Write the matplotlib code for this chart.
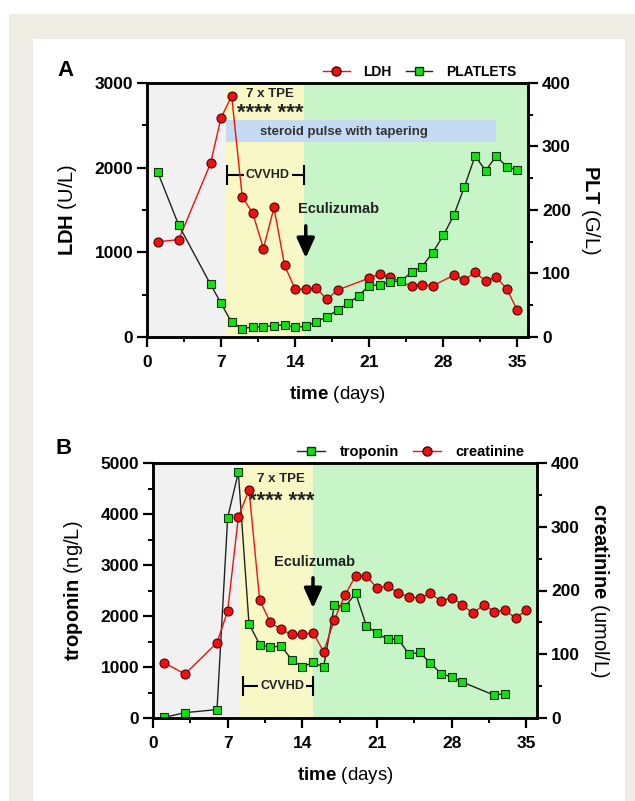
import numpy as np
import matplotlib
matplotlib.use("Agg")
import matplotlib.pyplot as plt
from matplotlib.lines import Line2D
from matplotlib.patches import Rectangle
from matplotlib.ticker import MultipleLocator

plt.rcParams["font.family"] = ["Liberation Sans", "DejaVu Sans"]
plt.rcParams["mathtext.fontset"] = "custom"
plt.rcParams["mathtext.rm"] = "Liberation Sans"
plt.rcParams["mathtext.bf"] = "Liberation Sans:bold"

# ---- panel A data ----
ldh_days = [1, 3, 6, 7, 8, 9, 10, 11, 12, 13, 14, 15, 16, 17, 18, 21, 22, 23,
            25, 26, 27, 29, 30, 31, 32, 33, 34, 35]
ldh = [1125, 1150, 2050, 2590, 2845, 1655, 1460, 1045, 1530, 845, 565, 565,
       575, 445, 555, 695, 745, 705, 600, 615, 605, 730, 675, 765, 660, 710,
       565, 315]

plt_days = [1, 3, 6, 7, 8, 9, 10, 11, 12, 13, 14, 15, 16, 17, 18, 19, 20, 21,
            22, 23, 24, 25, 26, 27, 28, 29, 30, 31, 32, 33, 34, 35]
platelets = [260, 176, 83, 53, 23, 13, 16, 16, 18, 19, 15, 17, 24, 32, 42, 53,
             65, 81, 82, 87, 88, 102, 111, 133, 160, 192, 237, 285, 262, 285,
             268, 263]

# ---- panel B data ----
trop_days = [1, 3, 6, 7, 8, 9, 10, 11, 12, 13, 14, 15, 16, 17, 18, 19, 20, 21,
             22, 23, 24, 25, 26, 27, 28, 29, 32, 33]
troponin = [10, 105, 165, 3930, 4815, 1845, 1440, 1385, 1415, 1145, 1000, 1090,
            1000, 2215, 2180, 2445, 1810, 1660, 1545, 1545, 1250, 1285, 1080,
            870, 805, 705, 445, 480]

crea_days = [1, 3, 6, 7, 8, 9, 10, 11, 12, 13, 14, 15, 16, 17, 18, 19, 20, 21,
             22, 23, 24, 25, 26, 27, 28, 29, 30, 31, 32, 33, 34, 35]
creatinine = [87, 69, 118, 168, 315, 358, 185, 150, 139, 131, 131, 134, 104,
              154, 193, 223, 223, 204, 207, 196, 190, 188, 196, 183, 189, 178,
              164, 178, 167, 169, 157, 169]

GRAY = "#f1f1f1"
YELLOW = "#f8f8c6"
GREEN = "#c8f5c8"
RED = "#ee1111"
LIME = "#11e011"
W, H = 635, 801


def px_axes(fig, l, r, t, b):
    return fig.add_axes([l / W, 1 - b / H, (r - l) / W, (b - t) / H])


def style_axes(ax, ax2, ymax, ymajor, ymax2):
    ax.set_xlim(0, 36)
    ax.set_ylim(0, ymax)
    ax2.set_ylim(0, ymax2)
    ax.xaxis.set_major_locator(MultipleLocator(7))
    ax.xaxis.set_minor_locator(MultipleLocator(3.5))
    ax.yaxis.set_major_locator(MultipleLocator(ymajor))
    ax.yaxis.set_minor_locator(MultipleLocator(ymajor / 2))
    ax2.yaxis.set_major_locator(MultipleLocator(100))
    ax2.yaxis.set_minor_locator(MultipleLocator(50))
    for a in (ax, ax2):
        for s in a.spines.values():
            s.set_linewidth(1.8)
        a.tick_params(which="major", direction="out", length=7, width=1.6,
                      labelsize=12.5, pad=3)
        a.tick_params(which="minor", direction="out", length=3.5, width=1.4)
        for lab in a.get_xticklabels() + a.get_yticklabels():
            lab.set_fontweight("bold")
    ax.tick_params(axis="x", pad=6)
    ax.set_xlabel(r"$\mathbf{time}$ (days)", fontsize=13.5, labelpad=10)


def shade(ax, x1, x2):
    ax.axvspan(0, x1, color=GRAY, lw=0, zorder=0)
    ax.axvspan(x1, x2, color=YELLOW, lw=0, zorder=0)
    ax.axvspan(x2, 36, color=GREEN, lw=0, zorder=0)


def bracket(ax, x1, x2, y, h, label, xt):
    ax.plot([x1, x2], [y, y], color="k", lw=1.5, zorder=3)
    ax.plot([x1, x1], [y - h, y + h], color="k", lw=1.5, zorder=3)
    ax.plot([x2, x2], [y - h, y + h], color="k", lw=1.5, zorder=3)
    ax.text(xt, y, label, ha="center", va="center", fontsize=9,
            fontweight="bold", color="#222222", zorder=4,
            bbox=dict(boxstyle="square,pad=0.15", fc=YELLOW, ec="none"))


def arrow(ax, x, y1, y2):
    ax.annotate("", xy=(x, y2), xytext=(x, y1), zorder=5,
                arrowprops=dict(arrowstyle="-|>,head_length=1.0,head_width=0.45",
                                mutation_scale=12, lw=2.5, color="k"))


fig = plt.figure(figsize=(W / 100, H / 100), dpi=100)
fig.patches.append(Rectangle((9 / W, 0), 626 / W, 1 - 14 / H, transform=fig.transFigure,
                             fc="#eeeee5", ec="none", zorder=-10))
fig.patches.append(Rectangle((33 / W, 0), 592 / W, 1 - 39 / H, transform=fig.transFigure,
                             fc="white", ec="none", zorder=-9))

# ---------------- panel A ----------------
ax = px_axes(fig, 147, 528, 83, 337)
ax2 = ax.twinx()
shade(ax, 7.5, 14.8)
ax.add_patch(Rectangle((7.5, 2300), 25.5, 260, fc="#c5daf3", ec="none", zorder=1))
ax.text(10.7, 2425, "steroid pulse with tapering", ha="left", va="center",
        fontsize=9.5, fontweight="bold", color="#333333", zorder=2)
ax.text(11.6, 2870, "7 x TPE", ha="center", va="center", fontsize=9.5,
        fontweight="bold", color="#222222")
ax.text(11.6, 2575, "**** ***", ha="center", va="baseline", fontsize=16,
        fontweight="bold", color="#222222", zorder=3)
bracket(ax, 7.6, 14.8, 1913, 110, "CVVHD", 11.4)
ax.text(14.3, 1512, "Eculizumab", ha="left", va="center", fontsize=10.5,
        fontweight="bold", color="#222222")
arrow(ax, 15, 1346, 900)

ax.plot(ldh_days, ldh, color=RED, lw=1, marker="o", ms=6.5, mfc=RED,
        mec="#550000", mew=0.8, zorder=4)
ax2.plot(plt_days, platelets, color="#222222", lw=1, marker="s", ms=6,
         mfc=LIME, mec="#113311", mew=0.8, zorder=4)
style_axes(ax, ax2, 3000, 1000, 400)
ax.set_ylabel(r"$\mathbf{LDH}$ (U/L)", fontsize=14.5, labelpad=11)
ax2.set_ylabel(r"$\mathbf{PLT}$ (G/L)", fontsize=14.5, rotation=270,
               va="bottom", labelpad=6)

hA = [Line2D([], [], color=RED, lw=1, marker="o", ms=6.5, mfc=RED, mec="#550000"),
      Line2D([], [], color="#222222", lw=1, marker="s", ms=6, mfc=LIME, mec="#113311")]
fig.legend(hA, ["LDH", "PLATLETS"], loc="center right", ncol=2, frameon=False,
           bbox_to_anchor=(523 / W, 1 - 72 / H), borderpad=0,
           prop=dict(weight="bold", size=10), handlelength=1.9,
           handletextpad=1.0, columnspacing=1.0)
fig.text(65 / W, 1 - 70 / H, "A", fontsize=16, fontweight="bold",
         ha="center", va="center")

# ---------------- panel B ----------------
bx = px_axes(fig, 153, 537, 463, 718)
bx2 = bx.twinx()
shade(bx, 8.2, 15.0)
bx.text(12.0, 4685, "7 x TPE", ha="center", va="center", fontsize=9.5,
        fontweight="bold", color="#222222")
bx.text(12.0, 4140, "**** ***", ha="center", va="baseline", fontsize=16,
        fontweight="bold", color="#222222", zorder=6)
bracket(bx, 8.4, 15.0, 623, 180, "CVVHD", 12.1)
bx.text(11.3, 3066, "Eculizumab", ha="left", va="center", fontsize=10.5,
        fontweight="bold", color="#222222")
arrow(bx, 15, 2804, 2100)

bx.plot(trop_days, troponin, color="#222222", lw=1, marker="s", ms=6,
        mfc=LIME, mec="#113311", mew=0.8, zorder=4)
bx2.plot(crea_days, creatinine, color=RED, lw=1, marker="o", ms=6.5, mfc=RED,
         mec="#550000", mew=0.8, zorder=4)
style_axes(bx, bx2, 5000, 1000, 400)
bx.set_ylabel(r"$\mathbf{troponin}$ (ng/L)", fontsize=14.5, labelpad=11)
bx2.set_ylabel(r"$\mathbf{creatinine}$ (umol/L)", fontsize=14.5, rotation=270,
               va="bottom", labelpad=6)

fig.legend(hA[::-1], ["troponin", "creatinine"], loc="center right", ncol=2,
           frameon=False, bbox_to_anchor=(532 / W, 1 - 452 / H), borderpad=0,
           prop=dict(weight="bold", size=10.5), handlelength=1.9,
           handletextpad=1.0, columnspacing=1.0)
fig.text(64 / W, 1 - 448 / H, "B", fontsize=16, fontweight="bold",
         ha="center", va="center")

fig.savefig("out.png", dpi=100)
